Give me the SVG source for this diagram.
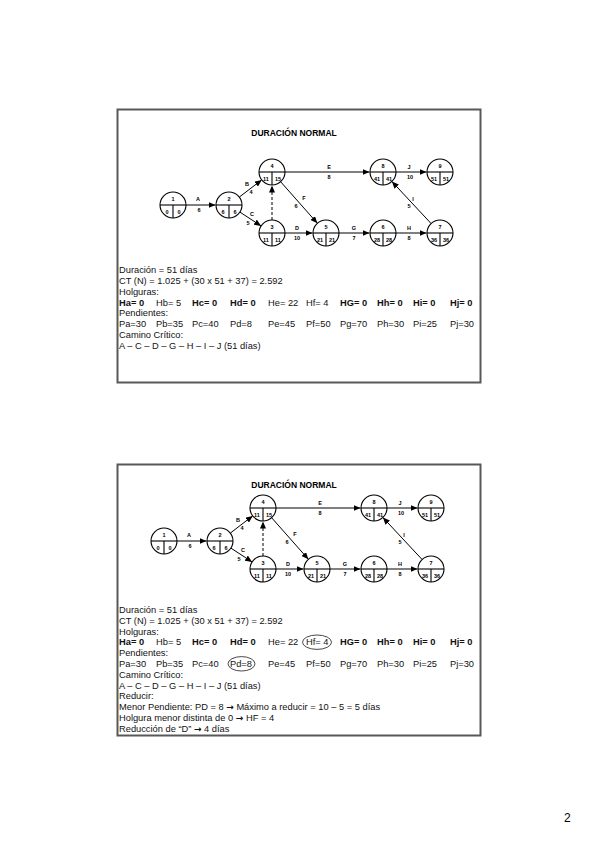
<svg xmlns="http://www.w3.org/2000/svg" xmlns:xlink="http://www.w3.org/1999/xlink" width="599" height="848" viewBox="0 0 599 848">
<style>
.box{fill:#fff;stroke:#585858;stroke-width:2}
.nd circle{fill:#fff;stroke:#000;stroke-width:1.1}
.nd line{stroke:#000;stroke-width:1.1}
.nt{font-family:"Liberation Sans",Arial,sans-serif;font-size:5.5px;font-weight:bold;text-anchor:middle;fill:#000}
.el{font-family:"Liberation Sans",Arial,sans-serif;font-size:5.5px;font-weight:bold;text-anchor:middle;fill:#000}
.ttl{font-family:"Liberation Sans",Arial,sans-serif;font-size:8.5px;font-weight:bold;text-anchor:middle;fill:#000}
.tx{font-family:"Liberation Sans",Arial,sans-serif;font-size:9.3px;fill:#111}
.b{font-weight:bold}
.ar{font-family:"DejaVu Sans",sans-serif;font-size:9px;font-weight:bold}
.ed{stroke:#000;stroke-width:1;fill:none;marker-end:url(#ah)}
.dash{stroke-dasharray:3,2}
.ring{fill:none;stroke:#333;stroke-width:0.9}
.pg{font-family:"Liberation Sans",Arial,sans-serif;font-size:12px;fill:#000}
</style>
<defs>
<marker id="ah" markerUnits="userSpaceOnUse" markerWidth="7" markerHeight="6" refX="7" refY="3" orient="auto"><path d="M0,0 L7,3 L0,6 z" fill="#000"/></marker>
<g id="node" class="nd"><circle r="13"/><line x1="-13" y1="0" x2="13" y2="0"/><line x1="0" y1="0" x2="0" y2="13"/></g>
</defs>
<rect width="599" height="848" fill="#fff"/>

<!-- TOP SLIDE -->
<rect class="box" x="117.5" y="109.5" width="363" height="273"/>
<text class="ttl" x="294" y="136">DURACIÓN NORMAL</text>

<g id="top-diagram">
<g id="top-connectors">
<line class="ed" x1="186" y1="205" x2="215.5" y2="205"/>
<line class="ed" x1="239.3" y1="197.1" x2="261.7" y2="179.9"/>
<line class="ed" x1="239.9" y1="212.1" x2="261.1" y2="225.9"/>
<line class="ed dash" x1="272" y1="220" x2="272" y2="185.5"/>
<line class="ed" x1="280.6" y1="181.7" x2="317.4" y2="223.3"/>
<line class="ed" x1="285" y1="233" x2="312.5" y2="233"/>
<line class="ed" x1="339" y1="233" x2="369.5" y2="233"/>
<line class="ed" x1="396" y1="233" x2="426.5" y2="233"/>
<line class="ed" x1="431.1" y1="223.5" x2="391.9" y2="181.5"/>
<line class="ed" x1="285" y1="172" x2="369.5" y2="172"/>
<line class="ed" x1="396" y1="172" x2="426.5" y2="172"/>
<text class="el" x="198" y="201">A</text><text class="el" x="199" y="212">6</text>
<text class="el" x="247" y="186">B</text><text class="el" x="251" y="194">4</text>
<text class="el" x="252" y="216">C</text><text class="el" x="248" y="225">5</text>
<text class="el" x="304" y="200">F</text><text class="el" x="296" y="208">6</text>
<text class="el" x="297" y="230">D</text><text class="el" x="297" y="240">10</text>
<text class="el" x="329" y="169">E</text><text class="el" x="329" y="179">8</text>
<text class="el" x="409" y="169">J</text><text class="el" x="410" y="179">10</text>
<text class="el" x="413" y="201">I</text><text class="el" x="409" y="208">5</text>
<text class="el" x="354" y="230">G</text><text class="el" x="354" y="240">7</text>
<text class="el" x="409" y="230">H</text><text class="el" x="409" y="240">8</text>
</g>
<g id="t-n1" transform="translate(173,205)"><use xlink:href="#node"/><text class="nt" y="-4">1</text><text class="nt" x="-6" y="8.5">0</text><text class="nt" x="6" y="8.5">0</text></g>
<g id="t-n2" transform="translate(229,205)"><use xlink:href="#node"/><text class="nt" y="-4">2</text><text class="nt" x="-6" y="8.5">6</text><text class="nt" x="6" y="8.5">6</text></g>
<g id="t-n4" transform="translate(272,172)"><use xlink:href="#node"/><text class="nt" y="-4">4</text><text class="nt" x="-6" y="8.5">11</text><text class="nt" x="6" y="8.5">15</text></g>
<g id="t-n3" transform="translate(272,233)"><use xlink:href="#node"/><text class="nt" y="-4">3</text><text class="nt" x="-6" y="8.5">11</text><text class="nt" x="6" y="8.5">11</text></g>
<g id="t-n5" transform="translate(326,233)"><use xlink:href="#node"/><text class="nt" y="-4">5</text><text class="nt" x="-6" y="8.5">21</text><text class="nt" x="6" y="8.5">21</text></g>
<g id="t-n6" transform="translate(383,233)"><use xlink:href="#node"/><text class="nt" y="-4">6</text><text class="nt" x="-6" y="8.5">28</text><text class="nt" x="6" y="8.5">28</text></g>
<g id="t-n7" transform="translate(440,233)"><use xlink:href="#node"/><text class="nt" y="-4">7</text><text class="nt" x="-6" y="8.5">36</text><text class="nt" x="6" y="8.5">36</text></g>
<g id="t-n8" transform="translate(383,172)"><use xlink:href="#node"/><text class="nt" y="-4">8</text><text class="nt" x="-6" y="8.5">41</text><text class="nt" x="6" y="8.5">41</text></g>
<g id="t-n9" transform="translate(440,172)"><use xlink:href="#node"/><text class="nt" y="-4">9</text><text class="nt" x="-6" y="8.5">51</text><text class="nt" x="6" y="8.5">51</text></g>
</g>

<g id="top-text" class="tx">
<text x="119" y="273">Duración = 51 días</text>
<text x="119" y="284">CT (N) = 1.025 + (30 x 51 + 37) = 2.592</text>
<text x="119" y="295">Holguras:</text>
<text y="305.5"><tspan class="b" x="119">Ha= 0</tspan><tspan x="156">Hb= 5</tspan><tspan class="b" x="192">Hc= 0</tspan><tspan class="b" x="230">Hd= 0</tspan><tspan x="268">He= 22</tspan><tspan x="306">Hf= 4</tspan><tspan class="b" x="340">HG= 0</tspan><tspan class="b" x="377">Hh= 0</tspan><tspan class="b" x="413">Hi= 0</tspan><tspan class="b" x="450">Hj= 0</tspan></text>
<text x="119" y="316">Pendientes:</text>
<text y="327"><tspan x="119">Pa=30</tspan><tspan x="156">Pb=35</tspan><tspan x="192">Pc=40</tspan><tspan x="230">Pd=8</tspan><tspan x="268">Pe=45</tspan><tspan x="306">Pf=50</tspan><tspan x="340">Pg=70</tspan><tspan x="377">Ph=30</tspan><tspan x="413">Pi=25</tspan><tspan x="450">Pj=30</tspan></text>
<text x="119" y="338">Camino Crítico:</text>
<text x="119" y="349">A – C – D – G – H – I – J (51 días)</text>
</g>

<!-- BOTTOM SLIDE -->
<rect class="box" x="117.5" y="464.5" width="363" height="271"/>
<text class="ttl" x="294" y="488">DURACIÓN NORMAL</text>

<g id="bottom-diagram" transform="translate(-9,336)">
<g id="bottom-connectors">
<line class="ed" x1="186" y1="205" x2="215.5" y2="205"/>
<line class="ed" x1="239.3" y1="197.1" x2="261.7" y2="179.9"/>
<line class="ed" x1="239.9" y1="212.1" x2="261.1" y2="225.9"/>
<line class="ed dash" x1="272" y1="220" x2="272" y2="185.5"/>
<line class="ed" x1="280.6" y1="181.7" x2="317.4" y2="223.3"/>
<line class="ed" x1="285" y1="233" x2="312.5" y2="233"/>
<line class="ed" x1="339" y1="233" x2="369.5" y2="233"/>
<line class="ed" x1="396" y1="233" x2="426.5" y2="233"/>
<line class="ed" x1="431.1" y1="223.5" x2="391.9" y2="181.5"/>
<line class="ed" x1="285" y1="172" x2="369.5" y2="172"/>
<line class="ed" x1="396" y1="172" x2="426.5" y2="172"/>
<text class="el" x="198" y="201">A</text><text class="el" x="199" y="212">6</text>
<text class="el" x="247" y="186">B</text><text class="el" x="251" y="194">4</text>
<text class="el" x="252" y="216">C</text><text class="el" x="248" y="225">5</text>
<text class="el" x="304" y="200">F</text><text class="el" x="296" y="208">6</text>
<text class="el" x="297" y="230">D</text><text class="el" x="297" y="240">10</text>
<text class="el" x="329" y="169">E</text><text class="el" x="329" y="179">8</text>
<text class="el" x="409" y="169">J</text><text class="el" x="410" y="179">10</text>
<text class="el" x="413" y="201">I</text><text class="el" x="409" y="208">5</text>
<text class="el" x="354" y="230">G</text><text class="el" x="354" y="240">7</text>
<text class="el" x="409" y="230">H</text><text class="el" x="409" y="240">8</text>
</g>
<g id="b-n1" transform="translate(173,205)"><use xlink:href="#node"/><text class="nt" y="-4">1</text><text class="nt" x="-6" y="8.5">0</text><text class="nt" x="6" y="8.5">0</text></g>
<g id="b-n2" transform="translate(229,205)"><use xlink:href="#node"/><text class="nt" y="-4">2</text><text class="nt" x="-6" y="8.5">6</text><text class="nt" x="6" y="8.5">6</text></g>
<g id="b-n4" transform="translate(272,172)"><use xlink:href="#node"/><text class="nt" y="-4">4</text><text class="nt" x="-6" y="8.5">11</text><text class="nt" x="6" y="8.5">15</text></g>
<g id="b-n3" transform="translate(272,233)"><use xlink:href="#node"/><text class="nt" y="-4">3</text><text class="nt" x="-6" y="8.5">11</text><text class="nt" x="6" y="8.5">11</text></g>
<g id="b-n5" transform="translate(326,233)"><use xlink:href="#node"/><text class="nt" y="-4">5</text><text class="nt" x="-6" y="8.5">21</text><text class="nt" x="6" y="8.5">21</text></g>
<g id="b-n6" transform="translate(383,233)"><use xlink:href="#node"/><text class="nt" y="-4">6</text><text class="nt" x="-6" y="8.5">28</text><text class="nt" x="6" y="8.5">28</text></g>
<g id="b-n7" transform="translate(440,233)"><use xlink:href="#node"/><text class="nt" y="-4">7</text><text class="nt" x="-6" y="8.5">36</text><text class="nt" x="6" y="8.5">36</text></g>
<g id="b-n8" transform="translate(383,172)"><use xlink:href="#node"/><text class="nt" y="-4">8</text><text class="nt" x="-6" y="8.5">41</text><text class="nt" x="6" y="8.5">41</text></g>
<g id="b-n9" transform="translate(440,172)"><use xlink:href="#node"/><text class="nt" y="-4">9</text><text class="nt" x="-6" y="8.5">51</text><text class="nt" x="6" y="8.5">51</text></g>
</g>

<g id="bottom-text" class="tx">
<text x="119" y="613">Duración = 51 días</text>
<text x="119" y="623.8">CT (N) = 1.025 + (30 x 51 + 37) = 2.592</text>
<text x="119" y="634.6">Holguras:</text>
<text y="645.4"><tspan class="b" x="119">Ha= 0</tspan><tspan x="156">Hb= 5</tspan><tspan class="b" x="192">Hc= 0</tspan><tspan class="b" x="230">Hd= 0</tspan><tspan x="268">He= 22</tspan><tspan x="306">Hf= 4</tspan><tspan class="b" x="340">HG= 0</tspan><tspan class="b" x="377">Hh= 0</tspan><tspan class="b" x="413">Hi= 0</tspan><tspan class="b" x="450">Hj= 0</tspan></text>
<text x="119" y="656.2">Pendientes:</text>
<text y="667"><tspan x="119">Pa=30</tspan><tspan x="156">Pb=35</tspan><tspan x="192">Pc=40</tspan><tspan x="230">Pd=8</tspan><tspan x="268">Pe=45</tspan><tspan x="306">Pf=50</tspan><tspan x="340">Pg=70</tspan><tspan x="377">Ph=30</tspan><tspan x="413">Pi=25</tspan><tspan x="450">Pj=30</tspan></text>
<text x="119" y="677.8">Camino Crítico:</text>
<text x="119" y="688.6">A – C – D – G – H – I – J (51 días)</text>
<text x="119" y="699.4">Reducir:</text>
<text x="119" y="710.2">Menor Pendiente: PD = 8 <tspan class="ar">→</tspan> Máximo a reducir = 10 – 5 = 5 días</text>
<text x="119" y="721">Holgura menor distinta de 0 <tspan class="ar">→</tspan> HF = 4</text>
<text x="119" y="731.8">Reducción de “D” <tspan class="ar">→</tspan> 4 días</text>
</g>
<ellipse class="ring" cx="317" cy="642.2" rx="14.5" ry="7.2"/>
<ellipse class="ring" cx="241.5" cy="663.8" rx="13.5" ry="7.2"/>

<text class="pg" x="564" y="822">2</text>
</svg>
